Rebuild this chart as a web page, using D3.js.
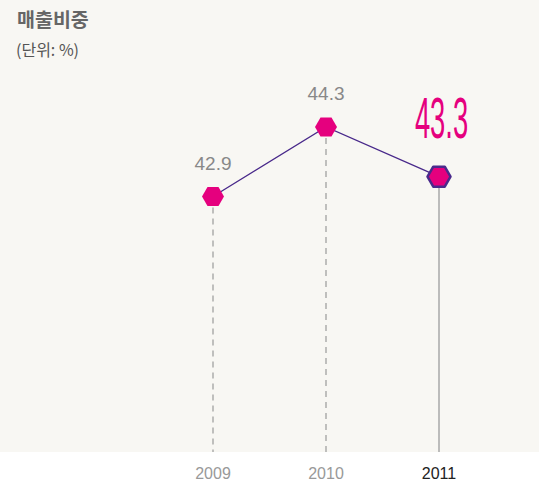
<!DOCTYPE html>
<html><head><meta charset="utf-8">
<script src="https://cdn.jsdelivr.net/npm/d3@7"></script>
<style>html,body{margin:0;padding:0;background:#fff;}svg{display:block;}</style>
</head><body>
<script>
const years = ["2009", "2010", "2011"];
const values = [42.9, 44.3, 43.3];
const labels = ["42.9", "44.3", "43.3"];
const title = "매출비중";
const unit = "(단위: %)";

const W = 539, H = 482;
const svg = d3.select("body").append("svg").attr("width", W).attr("height", H);
svg.append("rect").attr("x",0).attr("y",0).attr("width",W).attr("height",452).attr("fill","#f8f7f3");

const x = d3.scalePoint().domain(years).range([213, 439]);
const y = d3.scaleLinear().domain([42.9, 44.3]).range([196.5, 127]);
const base = 452;

svg.append("text").attr("x",17).attr("y",27).text(title)
  .attr("font-family","'Noto Sans CJK KR', sans-serif").attr("font-weight","bold")
  .attr("font-size",19.5).attr("fill","#666");
svg.append("text").attr("x",16).attr("y",56).text(unit)
  .attr("font-family","'Noto Sans CJK KR', sans-serif")
  .attr("font-size",16).attr("fill","#555");

// vertical lines
years.forEach((yr,i)=>{
  const last = i === years.length-1;
  svg.append("line").attr("x1",x(yr)).attr("x2",x(yr))
    .attr("y1",y(values[i])).attr("y2",base)
    .attr("stroke", last ? "#a8a8a8" : "#9a9a9a")
    .attr("stroke-width", last ? 1.5 : 1.2)
    .attr("stroke-dasharray", last ? null : "6,5");
});

// line
const line = d3.line().x((d,i)=>x(years[i])).y(d=>y(d));
svg.append("path").datum(values).attr("d",line).attr("fill","none")
  .attr("stroke","#48288a").attr("stroke-width",1.3);

// hexagons
function hex(cx, cy, rx, ry){
  const pts = [[cx-rx,cy],[cx-rx/2,cy-ry],[cx+rx/2,cy-ry],[cx+rx,cy],[cx+rx/2,cy+ry],[cx-rx/2,cy+ry]];
  return "M"+pts.map(p=>p.join(",")).join("L")+"Z";
}
values.forEach((v,i)=>{
  const last = i === years.length-1;
  svg.append("path").attr("d", hex(x(years[i]), y(v), last?11.5:11, last?10:9.5))
    .attr("fill","#e5007e")
    .attr("stroke", last ? "#4a2a8c" : "none")
    .attr("stroke-width", last ? 2.5 : 0)
    .attr("stroke-linejoin","round");
});

// value labels
values.forEach((v,i)=>{
  const last = i === years.length-1;
  if (last) {
    const cx = 441.5;
    svg.append("text").attr("x", cx).attr("y", 138)
      .attr("text-anchor","middle").text(labels[i])
      .attr("font-family","'Liberation Sans', Arial, sans-serif")
      .attr("font-size",57).attr("fill","#e5007e")
      .attr("transform", `translate(${cx},0) scale(0.48,1) translate(${-cx},0)`);
  } else {
    svg.append("text").attr("x", x(years[i])).attr("y", y(v)-27)
      .attr("text-anchor","middle").text(labels[i])
      .attr("font-family","'Liberation Sans', Arial, sans-serif")
      .attr("font-size",19).attr("fill","#888");
  }
});

// x labels
years.forEach((yr,i)=>{
  const last = i === years.length-1;
  svg.append("text").attr("x", x(yr)).attr("y", 479)
    .attr("text-anchor","middle").text(yr)
    .attr("font-family","'Liberation Sans', Arial, sans-serif")
    .attr("font-size",16).attr("fill", last ? "#222" : "#999");
});
</script>
</body></html>
